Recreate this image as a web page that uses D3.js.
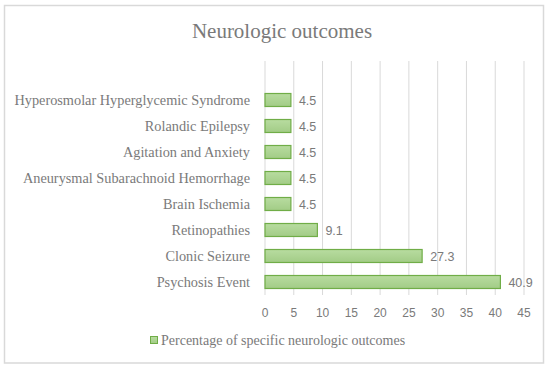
<!DOCTYPE html>
<html><head><meta charset="utf-8">
<script src="https://cdn.jsdelivr.net/npm/d3@7"></script>
<style>body{margin:0;background:#fff}</style>
</head><body>
<svg id="chart" width="550" height="371"></svg>
<script>
const categories = ["Psychosis Event","Clonic Seizure","Retinopathies","Brain Ischemia","Aneurysmal Subarachnoid Hemorrhage","Agitation and Anxiety","Rolandic Epilepsy","Hyperosmolar Hyperglycemic Syndrome"];
const values = [40.9, 27.3, 9.1, 4.5, 4.5, 4.5, 4.5, 4.5];
const xTicks = [0,5,10,15,20,25,30,35,40,45];
const title = "Neurologic outcomes";
const seriesName = "Percentage of specific neurologic outcomes";

const svg = d3.select("#chart");
const serif = "'Liberation Serif','DejaVu Serif',serif";
const sans = "'Liberation Sans','DejaVu Sans',sans-serif";
const gray = "#7a7a7a";

svg.append("rect").attr("x",4.5).attr("y",5.5).attr("width",539).attr("height",357.5)
  .attr("fill","#fff").attr("stroke","#d9d9d9").attr("stroke-width",1.5);

const defs = svg.append("defs");
const grad = defs.append("linearGradient").attr("id","g").attr("x1",0).attr("y1",0).attr("x2",0).attr("y2",1);
grad.append("stop").attr("offset","0%").attr("stop-color","#b8dca0");
grad.append("stop").attr("offset","100%").attr("stop-color","#a2cc86");

const x = d3.scaleLinear().domain([0,45]).range([265,524]);
// 9 bands: top band empty
const bandDomain = ["__empty__"].concat(categories.slice().reverse());
const y = d3.scaleBand().domain(bandDomain).range([61,295]).paddingInner(0.5).paddingOuter(0.25);

svg.append("text").attr("x",282).attr("y",38).attr("text-anchor","middle")
  .attr("font-family",serif).attr("font-size",21).attr("fill",gray).text(title);

// gridlines
svg.append("g").selectAll("line").data(xTicks).join("line")
  .attr("x1",d=>x(d)).attr("x2",d=>x(d)).attr("y1",61).attr("y2",295)
  .attr("stroke","#d9d9d9").attr("stroke-width",1);

// x tick labels
svg.append("g").selectAll("text").data(xTicks).join("text")
  .attr("x",d=>x(d)).attr("y",317).attr("text-anchor","middle")
  .attr("font-family",sans).attr("font-size",12).attr("fill",gray).text(d=>d);

// bars
svg.append("g").selectAll("rect").data(categories).join("rect")
  .attr("x",x(0)).attr("y",d=>y(d)).attr("height",y.bandwidth())
  .attr("width",(d,i)=>x(values[i])-x(0))
  .attr("fill","url(#g)").attr("stroke","#70ad47").attr("stroke-width",1.2);

// value labels
svg.append("g").selectAll("text").data(categories).join("text")
  .attr("x",(d,i)=>x(values[i])+8).attr("y",d=>y(d)+y.bandwidth()/2+4.5)
  .attr("font-family",sans).attr("font-size",12.5).attr("fill",gray)
  .text((d,i)=>values[i].toFixed(1));

// category labels
svg.append("g").selectAll("text").data(categories).join("text")
  .attr("x",250).attr("y",d=>y(d)+y.bandwidth()/2+5)
  .attr("text-anchor","end").attr("font-family",serif).attr("font-size",14.3).attr("fill",gray)
  .text(d=>d);

// legend
const lg = svg.append("g");
lg.append("rect").attr("x",150.5).attr("y",336.5).attr("width",7).attr("height",7)
  .attr("fill","url(#g)").attr("stroke","#70ad47").attr("stroke-width",1);
lg.append("text").attr("x",161).attr("y",345).attr("font-family",serif).attr("font-size",14)
  .attr("fill",gray).text(seriesName);
</script>
</body></html>
